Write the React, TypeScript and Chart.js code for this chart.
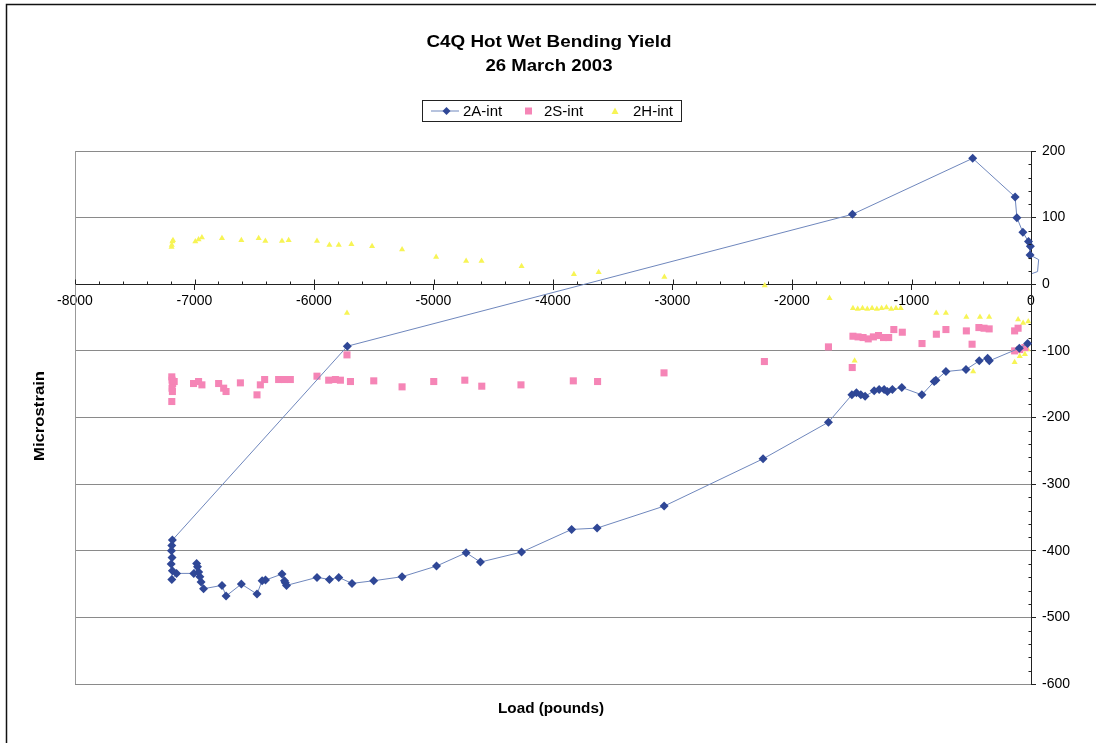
import React, { useEffect, useRef } from "react";
import { Chart, registerables } from "chart.js";

Chart.register(...registerables);

const TITLE_LINES = ["C4Q Hot Wet Bending Yield", "26 March 2003"];
const X_TITLE = "Load (pounds)";
const Y_TITLE = "Microstrain";
const SERIES_NAMES = ["2A-int", "2S-int", "2H-int"];

// 2A-int (line with diamond markers)
const loadA = [
  -28, -98, -349, -363, -433, -544, -712, -796, -810, -913, -1081, -1160, -1202, -1229, -1271, -1312,
  -1388, -1424, -1461, -1499, -1695, -2242, -3070, -3631, -3844, -4263, -4607, -4727, -4975, -5263,
  -5500, -5682, -5793, -5871, -5975, -6230, -6240, -6247, -6268, -6406, -6434, -6477, -6608, -6736,
  -6770, -6924, -6945, -6955, -6965, -6975, -6982, -7006, -7150, -7190, -7185, -7195, -7188, -7193,
  -7190, -7185, -5721, -1494, -488, -133, -118, -68, -21, -5, -8, 64, 55, 8,
];
const strainA = [
  -89, -96, -115, -111, -115, -128, -131, -144, -146, -166, -155, -158, -161, -158, -158, -160,
  -168, -166, -163, -166, -207, -262, -333, -366, -368, -402, -417, -403, -423, -439,
  -445, -449, -440, -443, -440, -452, -448, -445, -435, -444, -445, -465, -450, -468,
  -452, -457, -447, -439, -432, -424, -419, -434, -434, -443, -430, -420, -410, -400,
  -392, -384, -93, 105, 189, 131, 100, 78, 64, 57, 44, 37, 19, 16,
];

// 2S-int (pink squares)
const loadS = [
  -7190, -7188, -7183, -7170, -7188, -7185, -7190, -7008, -6966, -6938, -6798, -6756, -6736, -6616,
  -6477, -6449, -6413, -6296, -6250, -6198, -5975, -5877, -5821, -5779, -5724, -5695, -5500, -5263,
  -4998, -4738, -4596, -4268, -3830, -3627, -3071, -2231, -1695, -1496, -1490, -1447, -1405, -1362,
  -1319, -1276, -1234, -1191, -1148, -1077, -912, -792, -712, -541, -493, -436, -393, -350, -137,
  -108, -137, -94, -51,
];
const strainS = [
  -139, -144, -149, -146, -156, -161, -176, -149, -146, -151, -149, -156, -161, -148,
  -166, -151, -143, -143, -143, -143, -138, -144, -143, -144, -106, -146, -145, -154,
  -146, -144, -153, -151, -145, -146, -133, -116, -94, -125, -78, -79, -80, -82,
  -79, -77, -80, -80, -68, -72, -89, -75, -68, -70, -90, -65, -66, -67, -70,
  -66, -100, -98, -95,
];

// 2H-int (yellow triangles)
const loadH = [
  -7190, -7185, -7180, -7192, -6993, -6966, -6938, -6770, -6608, -6463, -6407, -6268, -6212, -5975,
  -5871, -5793, -5687, -5514, -5263, -4978, -4727, -4598, -4263, -5724, -3825, -3618, -3068, -2228,
  -1686, -1490, -1450, -1410, -1370, -1330, -1290, -1250, -1210, -1170, -1130, -1090, -1476, -792,
  -712, -541, -427, -350, -484, -108, -66, -23, -137, -94, -51, -28,
];
const strainH = [
  59, 64, 66, 56, 64, 67, 70, 69, 66, 69, 65, 65, 66, 65,
  59, 59, 60, 57, 52, 41, 35, 35, 27, -43, 15, 18, 11, -2,
  -21, -36, -37, -36, -37, -36, -37, -36, -35, -37, -36, -36, -115, -43,
  -43, -49, -49, -49, -131, -53, -58, -56, -117, -108, -105, -98,
];

const X_MIN = -8000;
const X_MAX = 0;
const X_STEP = 1000;
const X_MINOR = 200;
const Y_MIN = -600;
const Y_MAX = 200;
const Y_STEP = 100;
const Y_MINOR = 20;

const FONT = "'Liberation Sans', Arial, sans-serif";
const BLUE_LINE = "#6f87bd";
const BLUE_MARK = "#2f4796";
const PINK = "#f585b6";
const YELLOW = "#f7f455";

const toPoints = (xs: number[], ys: number[]) => xs.map((x, i) => ({ x, y: ys[i] }));

// draw centred text stretched horizontally to a target width
function fitText(ctx: CanvasRenderingContext2D, text: string, x: number, y: number, target: number) {
  const w = ctx.measureText(text).width;
  const k = target / w;
  ctx.save();
  ctx.translate(x, y);
  ctx.scale(k, 1);
  ctx.textAlign = "center";
  ctx.fillText(text, 0, 0);
  ctx.restore();
}

const decorPlugin = {
  id: "decor",
  beforeDraw(chart: any) {
    const { ctx } = chart;
    ctx.save();
    ctx.fillStyle = "#fff";
    ctx.fillRect(0, 0, chart.width, chart.height);
    ctx.restore();
  },
  afterDraw(chart: any) {
    const { ctx, chartArea } = chart;
    const xs = chart.scales.x;
    const ys = chart.scales.y;
    ctx.save();
    // outer frame
    ctx.strokeStyle = "#111";
    ctx.lineWidth = 1.5;
    ctx.beginPath();
    ctx.moveTo(6.5, chart.height);
    ctx.lineTo(6.5, 4.5);
    ctx.lineTo(chart.width, 4.5);
    ctx.stroke();

    // plot border (left)
    ctx.strokeStyle = "#999";
    ctx.lineWidth = 1;
    ctx.beginPath();
    ctx.moveTo(Math.round(chartArea.left) + 0.5, chartArea.top);
    ctx.lineTo(Math.round(chartArea.left) + 0.5, chartArea.bottom);
    ctx.stroke();

    // minor ticks x
    const y0 = Math.round(ys.getPixelForValue(0)) + 0.5;
    ctx.strokeStyle = "#222";
    ctx.beginPath();
    for (let v = X_MIN; v <= X_MAX; v += X_MINOR) {
      const px = Math.round(xs.getPixelForValue(v)) + 0.5;
      const major = v % X_STEP === 0;
      ctx.moveTo(px, y0);
      ctx.lineTo(px, y0 - (major ? 5 : 3));
    }
    // minor ticks y (inside)
    const xa = Math.round(chartArea.right) + 0.5;
    for (let v = Y_MIN; v <= Y_MAX; v += Y_MINOR) {
      if (v % Y_STEP === 0) continue;
      const py = Math.round(ys.getPixelForValue(v)) + 0.5;
      ctx.moveTo(xa, py);
      ctx.lineTo(xa - 3, py);
    }
    ctx.stroke();

    // title
    ctx.fillStyle = "#000";
    ctx.textBaseline = "middle";
    ctx.font = `bold 16px ${FONT}`;
    fitText(ctx, TITLE_LINES[0], 549, 43, 245);
    fitText(ctx, TITLE_LINES[1], 549, 67, 127);

    // axis titles
    ctx.font = `bold 14px ${FONT}`;
    fitText(ctx, X_TITLE, 551, 709, 106);
    ctx.save();
    ctx.translate(40, 416);
    ctx.rotate(-Math.PI / 2);
    fitText(ctx, Y_TITLE, 0, 0, 90);
    ctx.restore();

    // legend
    ctx.strokeStyle = "#222";
    ctx.lineWidth = 1;
    ctx.strokeRect(422.5, 100.5, 259, 21);
    const ly = 111;
    ctx.strokeStyle = BLUE_LINE;
    ctx.beginPath();
    ctx.moveTo(431, ly);
    ctx.lineTo(459, ly);
    ctx.stroke();
    ctx.fillStyle = BLUE_MARK;
    ctx.beginPath();
    ctx.moveTo(446.5, ly - 4);
    ctx.lineTo(450.5, ly);
    ctx.lineTo(446.5, ly + 4);
    ctx.lineTo(442.5, ly);
    ctx.closePath();
    ctx.fill();
    ctx.fillStyle = PINK;
    ctx.fillRect(525, ly - 3.5, 7, 7);
    ctx.fillStyle = YELLOW;
    ctx.beginPath();
    ctx.moveTo(615, ly - 3.5);
    ctx.lineTo(618.5, ly + 3);
    ctx.lineTo(611.5, ly + 3);
    ctx.closePath();
    ctx.fill();
    ctx.fillStyle = "#000";
    ctx.textAlign = "left";
    ctx.font = `15px ${FONT}`;
    ctx.fillText(SERIES_NAMES[0], 463, ly + 1);
    ctx.fillText(SERIES_NAMES[1], 544, ly + 1);
    ctx.fillText(SERIES_NAMES[2], 633, ly + 1);
    ctx.restore();
  },
};

export default function App() {
  const ref = useRef<HTMLCanvasElement | null>(null);
  useEffect(() => {
    if (!ref.current) return;
    const chart = new Chart(ref.current, {
      type: "scatter",
      data: {
        datasets: [
          {
            label: SERIES_NAMES[0],
            data: toPoints(loadA, strainA),
            showLine: true,
            borderColor: BLUE_LINE,
            borderWidth: 1,
            pointStyle: "rectRot",
            pointRadius: (c: any) => (c.raw && c.raw.x > 0 ? 0 : 4.5),
            pointBackgroundColor: BLUE_MARK,
            pointBorderColor: BLUE_MARK,
            pointBorderWidth: 0,
            clip: 12,
            order: 1,
          },
          {
            label: SERIES_NAMES[1],
            data: toPoints(loadS, strainS),
            pointStyle: "rect",
            pointRadius: 5,
            pointBackgroundColor: PINK,
            pointBorderColor: PINK,
            pointBorderWidth: 0,
            order: 2,
          },
          {
            label: SERIES_NAMES[2],
            data: toPoints(loadH, strainH),
            pointStyle: "triangle",
            pointRadius: 3.5,
            pointBackgroundColor: YELLOW,
            pointBorderColor: YELLOW,
            pointBorderWidth: 0,
            order: 3,
          },
        ],
      },
      options: {
        responsive: false,
        animation: false,
        layout: { padding: { left: 75, top: 151, right: 0, bottom: 59 } },
        plugins: { legend: { display: false }, title: { display: false }, tooltip: { enabled: false } },
        scales: {
          x: {
            type: "linear",
            min: X_MIN,
            max: X_MAX,
            position: { y: 0 } as any,
            ticks: {
              stepSize: X_STEP,
              color: "#000",
              font: { family: FONT, size: 14 },
              padding: 3,
              maxRotation: 0,
              callback: (v: any) => String(v),
            },
            grid: { drawOnChartArea: false, drawTicks: true, tickLength: 5, tickColor: "#222" },
            border: { color: "#222", width: 1 },
          },
          y: {
            type: "linear",
            min: Y_MIN,
            max: Y_MAX,
            position: "right",
            afterFit: (s: any) => {
              s.width = 65;
            },
            ticks: {
              stepSize: Y_STEP,
              color: "#000",
              font: { family: FONT, size: 14 },
              padding: 6,
              callback: (v: any) => String(v),
            },
            grid: { color: "#8a8a8a", lineWidth: 1, drawTicks: true, tickLength: 5, tickColor: "#222" },
            border: { color: "#222", width: 1 },
          },
        },
      },
      plugins: [decorPlugin],
    });
    return () => chart.destroy();
  }, []);
  return (
    <div style={{ position: "fixed", left: 0, top: 0, width: 1096, height: 743, background: "#fff" }}>
      <canvas ref={ref} width={1096} height={743} style={{ display: "block" }} />
    </div>
  );
}
